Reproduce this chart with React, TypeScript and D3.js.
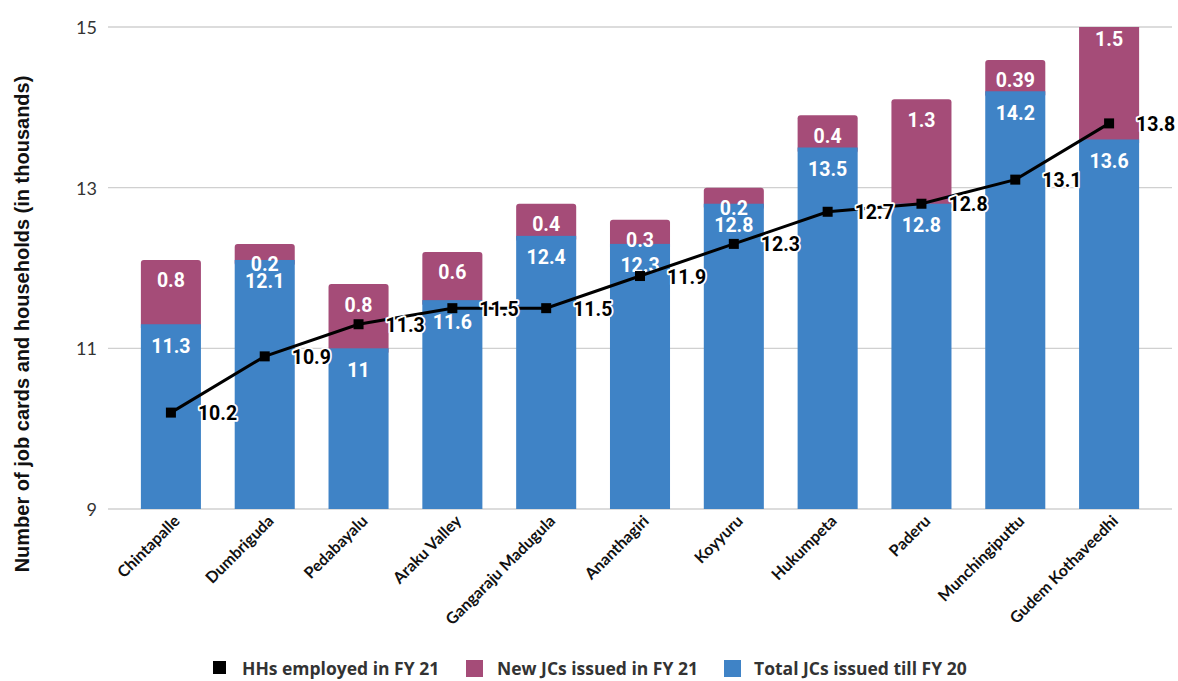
import React from "react";
import * as d3 from "d3";

const categories = [
  "Chintapalle", "Dumbriguda", "Pedabayalu", "Araku Valley", "Gangaraju Madugula",
  "Ananthagiri", "Koyyuru", "Hukumpeta", "Paderu", "Munchingiputtu", "Gudem Kothaveedhi",
];
const totalJCs = [11.3, 12.1, 11, 11.6, 12.4, 12.3, 12.8, 13.5, 12.8, 14.2, 13.6];
const newJCs = [0.8, 0.2, 0.8, 0.6, 0.4, 0.3, 0.2, 0.4, 1.3, 0.39, 1.5];
const hhsEmployed = [10.2, 10.9, 11.3, 11.5, 11.5, 11.9, 12.3, 12.7, 12.8, 13.1, 13.8];
const yTicks = [9, 11, 13, 15];
const legendItems = ["HHs employed in FY 21", "New JCs issued in FY 21", "Total JCs issued till FY 20"];

const W = 1178, H = 681;
const BLUE = "#3F83C6";
const MAGENTA = "#A54C78";

export default function App() {
  const x = d3.scaleBand<string>().domain(categories).range([124, 1156]).paddingInner(0.36).paddingOuter(0.18);
  const y = d3.scaleLinear().domain([9, 15]).range([509, 27]);
  const bw = x.bandwidth();
  const cx = (c: string) => (x(c) as number) + bw / 2;
  const line = d3.line<number>().x((_, i) => cx(categories[i])).y((d) => y(d));
  const labelFont = "Roboto, 'Open Sans', sans-serif";
  const axisFont = "Lato, 'Open Sans', sans-serif";

  return (
    <svg width={W} height={H} style={{ position: "absolute", left: 0, top: 0, background: "#fff" }}>
      <defs>
        <clipPath id="plotclip">
          <rect x={100} y={27} width={1080} height={482} />
        </clipPath>
      </defs>
      {yTicks.map((t) => (
        <g key={t}>
          <line x1={108} x2={1172} y1={y(t)} y2={y(t)} stroke="#d0d0d0" strokeWidth={1.3} />
          <text x={97} y={y(t)} textAnchor="end" dominantBaseline="central" fontFamily={axisFont} fontSize={18} fill="#333">{t}</text>
        </g>
      ))}
      <g clipPath="url(#plotclip)">
        {categories.map((c, i) => (
          <g key={c}>
            <rect x={x(c)} y={y(totalJCs[i] + newJCs[i])} width={bw} height={y(totalJCs[i]) - y(totalJCs[i] + newJCs[i]) + 6} rx={3} fill={MAGENTA} />
            <rect x={x(c)} y={y(totalJCs[i])} width={bw} height={y(9) - y(totalJCs[i])} fill={BLUE} />
          </g>
        ))}
      </g>
      {categories.map((c, i) => (
        <g key={c + "lab"} fontFamily={labelFont} fontWeight={700} fontSize={19.5} fill="#fff" textAnchor="middle">
          <text x={cx(c)} y={y(totalJCs[i]) + 22} dominantBaseline="central">{totalJCs[i]}</text>
          <text x={cx(c)} y={y(totalJCs[i] + newJCs[i]) + 21} dominantBaseline="central">{newJCs[i]}</text>
        </g>
      ))}
      <path d={line(hhsEmployed) || ""} fill="none" stroke="#000" strokeWidth={3} />
      {categories.map((c, i) => (
        <rect key={c + "m"} x={cx(c) - 5} y={y(hhsEmployed[i]) - 5} width={10} height={10} fill="#000" />
      ))}
      {categories.map((c, i) => (
        <text key={c + "hl"} x={cx(c) + 27} y={y(hhsEmployed[i]) + 1} dominantBaseline="central"
          fontFamily={labelFont} fontWeight={700} fontSize={19.5} fill="#000"
          stroke="#fff" strokeWidth={3.5} strokeLinejoin="round" paintOrder="stroke">{hhsEmployed[i]}</text>
      ))}
      {categories.map((c) => (
        <text key={c + "x"} transform={`translate(${cx(c) + 10},${522}) rotate(-45)`} textAnchor="end"
          fontFamily={axisFont} fontWeight={700} fontSize={16} fill="#111">{c}</text>
      ))}
      <text transform={`translate(${22},${324}) rotate(-90)`} textAnchor="middle" dominantBaseline="central"
        fontFamily="'Liberation Sans', Arial, sans-serif" fontWeight={700} fontSize={20} fill="#111">
        Number of job cards and households (in thousands)
      </text>
      <g fontFamily="'Open Sans', sans-serif" fontWeight={700} fontSize={17.5} fill="#333">
        <rect x={213} y={661} width={13} height={13} fill="#000" />
        <text x={242} y={668} dominantBaseline="central">{legendItems[0]}</text>
        <rect x={466} y={660} width={17} height={17} fill={MAGENTA} />
        <text x={497} y={668} dominantBaseline="central">{legendItems[1]}</text>
        <rect x={724} y={660} width={17} height={17} fill={BLUE} />
        <text x={754} y={668} dominantBaseline="central">{legendItems[2]}</text>
      </g>
    </svg>
  );
}
